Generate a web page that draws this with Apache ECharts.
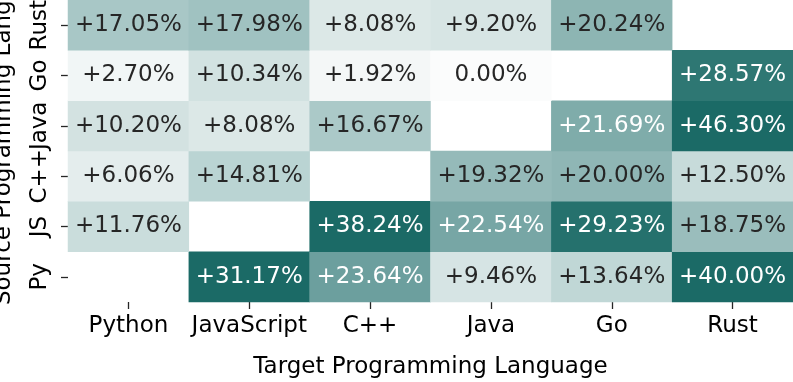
<!DOCTYPE html>
<html>
<head>
<meta charset="utf-8">
<script src="https://cdn.jsdelivr.net/npm/echarts@6/dist/echarts.min.js"></script>
<style>
  html, body { margin: 0; padding: 0; background: #fff; }
  #heat { width: 793px; height: 382px; }
</style>
</head>
<body>
<div id="heat"></div>
<script>
    /* data */
    var targetLangs = ['Python', 'JavaScript', 'C++', 'Java', 'Go', 'Rust'];
    // bottom to top
    var sourceLangs = ['Py', 'JS', 'C++', 'Java', 'Go', 'Rust'];

    // one array per source row, columns follow targetLangs, null = diagonal
    var rowPy   = [null, 31.17, 23.64, 9.46, 13.64, 40.00];
    var rowJS   = [11.76, null, 38.24, 22.54, 29.23, 18.75];
    var rowCpp  = [6.06, 14.81, null, 19.32, 20.00, 12.50];
    var rowJava = [10.20, 8.08, 16.67, null, 21.69, 46.30];
    var rowGo   = [2.70, 10.34, 1.92, 0.00, null, 28.57];
    var rowRust = [17.05, 17.98, 8.08, 9.20, 20.24, null];

    var rows = [rowPy, rowJS, rowCpp, rowJava, rowGo, rowRust];

    var font = 'DejaVu Sans';
    var dark = '#262626';

    var cells = [];
    rows.forEach(function (row, y) {
        row.forEach(function (v, x) {
            if (v === null) return;
            cells.push({
                value: [x, y, v],
                label: { color: v > 21 ? '#ffffff' : dark }
            });
        });
    });

    var chart = echarts.init(document.getElementById('heat'));

    var tick = { show: true, alignWithLabel: true, length: 7, lineStyle: { color: dark, width: 1.3 } };

    chart.setOption({
        animation: false,
        grid: {
            left: 68,
            right: 0,
            top: 0,
            bottom: 80,
            containLabel: false,
            outerBoundsMode: 'none'
        },
        xAxis: {
            type: 'category',
            data: targetLangs,
            name: 'Target Programming Language',
            nameLocation: 'middle',
            nameGap: 54,
            nameTextStyle: { fontFamily: font, fontSize: 23, color: '#000' },
            axisLine: { show: true, lineStyle: { color: 'rgba(0,0,0,0)', width: 0 } },
            axisTick: tick,
            axisLabel: { interval: 0, fontFamily: font, fontSize: 23, color: '#000', margin: 13 },
            splitArea: { show: false }
        },
        yAxis: {
            type: 'category',
            data: sourceLangs,
            name: 'Source Programming Language',
            nameLocation: 'middle',
            nameGap: 52,
            nameTextStyle: { fontFamily: font, fontSize: 23, color: '#000', padding: [0, 0, 0, 54] },
            axisLine: { show: true, lineStyle: { color: 'rgba(0,0,0,0)', width: 0 } },
            axisTick: tick,
            axisLabel: { interval: 0, fontFamily: font, fontSize: 23, color: '#000', rotate: 90, margin: 16 },
            splitArea: { show: false }
        },
        visualMap: {
            show: false,
            type: 'continuous',
            dimension: 2,
            min: 0,
            max: 50,
            inRange: {
                color: ['#fbfcfc', '#e8f0f0', '#d4e3e2', '#b9d3d2', '#8fb6b5', '#5f9795',
                        '#1b6a66', '#1b6a66', '#1b6a66', '#1b6a66', '#1b6a66']
            }
        },
        series: [{
            type: 'heatmap',
            data: cells,
            label: {
                show: true,
                fontFamily: font,
                fontSize: 23,
                formatter: function (p) {
                    var v = p.value[2];
                    return (v > 0 ? '+' : '') + v.toFixed(2) + '%';
                }
            },
            emphasis: { disabled: true }
        }]
    });
</script>
</body>
</html>
